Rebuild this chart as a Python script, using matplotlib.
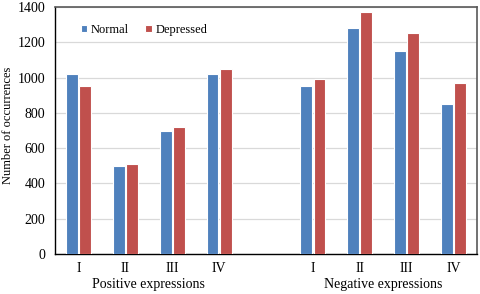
import numpy as np
import matplotlib
matplotlib.use("Agg")
from matplotlib import pyplot as plt

LEVELS = ["I", "II", "III", "IV"]
GROUPS = ["Positive expressions", "Negative expressions"]
NORMAL_POS = [1020, 500, 700, 1020]
DEPRESSED_POS = [950, 510, 720, 1050]
NORMAL_NEG = [950, 1280, 1150, 850]
DEPRESSED_NEG = [990, 1370, 1250, 970]

BLUE = "#4F81BD"
RED = "#C0504D"

plt.rcParams["font.family"] = ["Liberation Serif", "DejaVu Serif"]
plt.rcParams["font.size"] = 10

fig = plt.figure(figsize=(4.8, 2.94), dpi=100)
ax = fig.add_axes([55 / 480, 1 - 254 / 294, 422 / 480, 247 / 294])

# 9 slots: 4 positive, one empty gap, 4 negative
x = np.array([0, 1, 2, 3, 5, 6, 7, 8])
normal = NORMAL_POS + NORMAL_NEG
depressed = DEPRESSED_POS + DEPRESSED_NEG
w = 0.25
off = 0.14
ax.bar(x - off, normal, w, color=BLUE, edgecolor="white", linewidth=0.8,
       label="Normal", zorder=3)
ax.bar(x + off, depressed, w, color=RED, edgecolor="white", linewidth=0.8,
       label="Depressed", zorder=3)

ax.set_xlim(-0.5, 8.5)
ax.set_ylim(0, 1400)
ax.set_yticks(range(0, 1401, 200))
ax.set_xticks(x)
ax.set_xticklabels(LEVELS + LEVELS)
ax.tick_params(axis="both", length=0, labelsize=10, colors="black")
ax.tick_params(axis="x", pad=6)
ax.tick_params(axis="y", pad=7)
ax.grid(axis="y", color="#D9D9D9", linewidth=0.9, zorder=0)
ax.set_axisbelow(True)

for side in ["left", "bottom"]:
    ax.spines[side].set_color("black")
    ax.spines[side].set_linewidth(1.0)
for side in ["top", "right"]:
    ax.spines[side].set_color("#595959")
    ax.spines[side].set_linewidth(1.2)

ax.set_ylabel("Number of occurrences", fontsize=9)
ax.yaxis.set_label_coords(-0.097, 0.522)

for cx, name in zip([1.5, 6.5], GROUPS):
    ax.text(cx, -0.122, name, transform=ax.get_xaxis_transform(),
            ha="center", va="center", fontsize=10)

ax.legend(loc="upper left", bbox_to_anchor=(0.05, 0.95), ncol=2,
          frameon=False, fontsize=9, handlelength=0.5, handleheight=0.5,
          handletextpad=0.3, columnspacing=1.3, borderaxespad=0)

fig.savefig("out.png", dpi=100)
